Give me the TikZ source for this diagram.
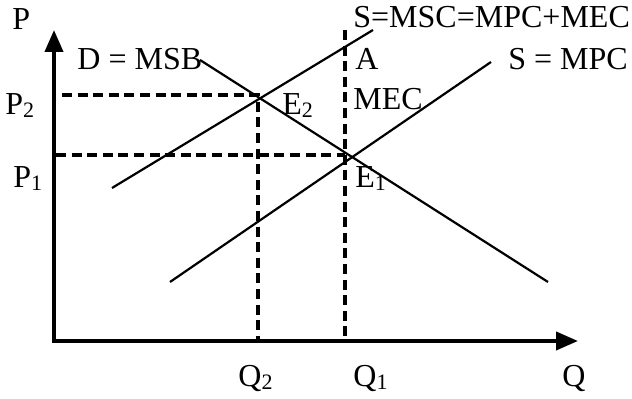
\documentclass[tikz,border=0pt]{standalone}
\usepackage{fontspec}
\setmainfont{Liberation Serif}
\usepackage{tikz}
\usetikzlibrary{arrows.meta}
\newcommand{\lowsub}[1]{\raisebox{-0.2ex}{\fontsize{11}{12}\selectfont #1}}

\begin{document}
\begin{tikzpicture}[x=0.5pt, y=-0.5pt,
  axis/.style={line width=2pt, -{Triangle[length=11pt, width=9pt]}},
  curve/.style={line width=1.1pt},
  guide/.style={line width=1.6pt, dash pattern=on 5pt off 2.8pt},
  lbl/.style={anchor=base west, inner sep=0pt, font=\fontsize{16}{18}\selectfont},
]
\useasboundingbox (0,0) rectangle (632,399);

% axes
\coordinate (orig) at (54,343);
\coordinate (ptop) at (54,30);
\coordinate (qend) at (578,341);
\draw[axis] (orig) -- (ptop);
\draw[axis] (52,341) -- (qend);

% curves
\coordinate (dhi) at (200,60);
\coordinate (dlo) at (548,282);
\coordinate (mschi) at (373,30);
\coordinate (msclo) at (112,188);
\coordinate (mpchi) at (491,62);
\coordinate (mpclo) at (170,282);
\draw[curve] (dhi) -- (dlo);
\draw[curve] (msclo) -- (mschi);
\draw[curve] (mpclo) -- (mpchi);

% equilibrium guides
\coordinate (etwo) at (258,95);
\coordinate (eone) at (345,155);
\draw[guide] (62,95) -- (etwo) -- (258,341);
\draw[guide] (56,155) -- (eone);
\draw[guide] (345,30) -- (345,341);

% labels
\node[lbl] (pl) at (12,30) {P};
\node[lbl] (dl) at (77,70) {D = MSB};
\node[lbl] (ptwo) at (5,115) {P\lowsub{2}};
\node[lbl] (pone) at (13,188) {P\lowsub{1}};
\node[lbl] (etl) at (282,115) {E\lowsub{2}};
\node[lbl] (al) at (355,70) {A};
\node[lbl] (mecl) at (353,110) {MEC};
\node[lbl] (eol) at (355,188) {E\lowsub{1}};
\node[lbl] (mscl) at (353,28) {S=MSC=MPC+MEC};
\node[lbl] (mpcl) at (508,70) {S = MPC};
\node[lbl] (qtwo) at (238,387) {Q\lowsub{2}};
\node[lbl] (qone) at (353,387) {Q\lowsub{1}};
\node[lbl] (ql) at (562,387) {Q};
\end{tikzpicture}
\end{document}
